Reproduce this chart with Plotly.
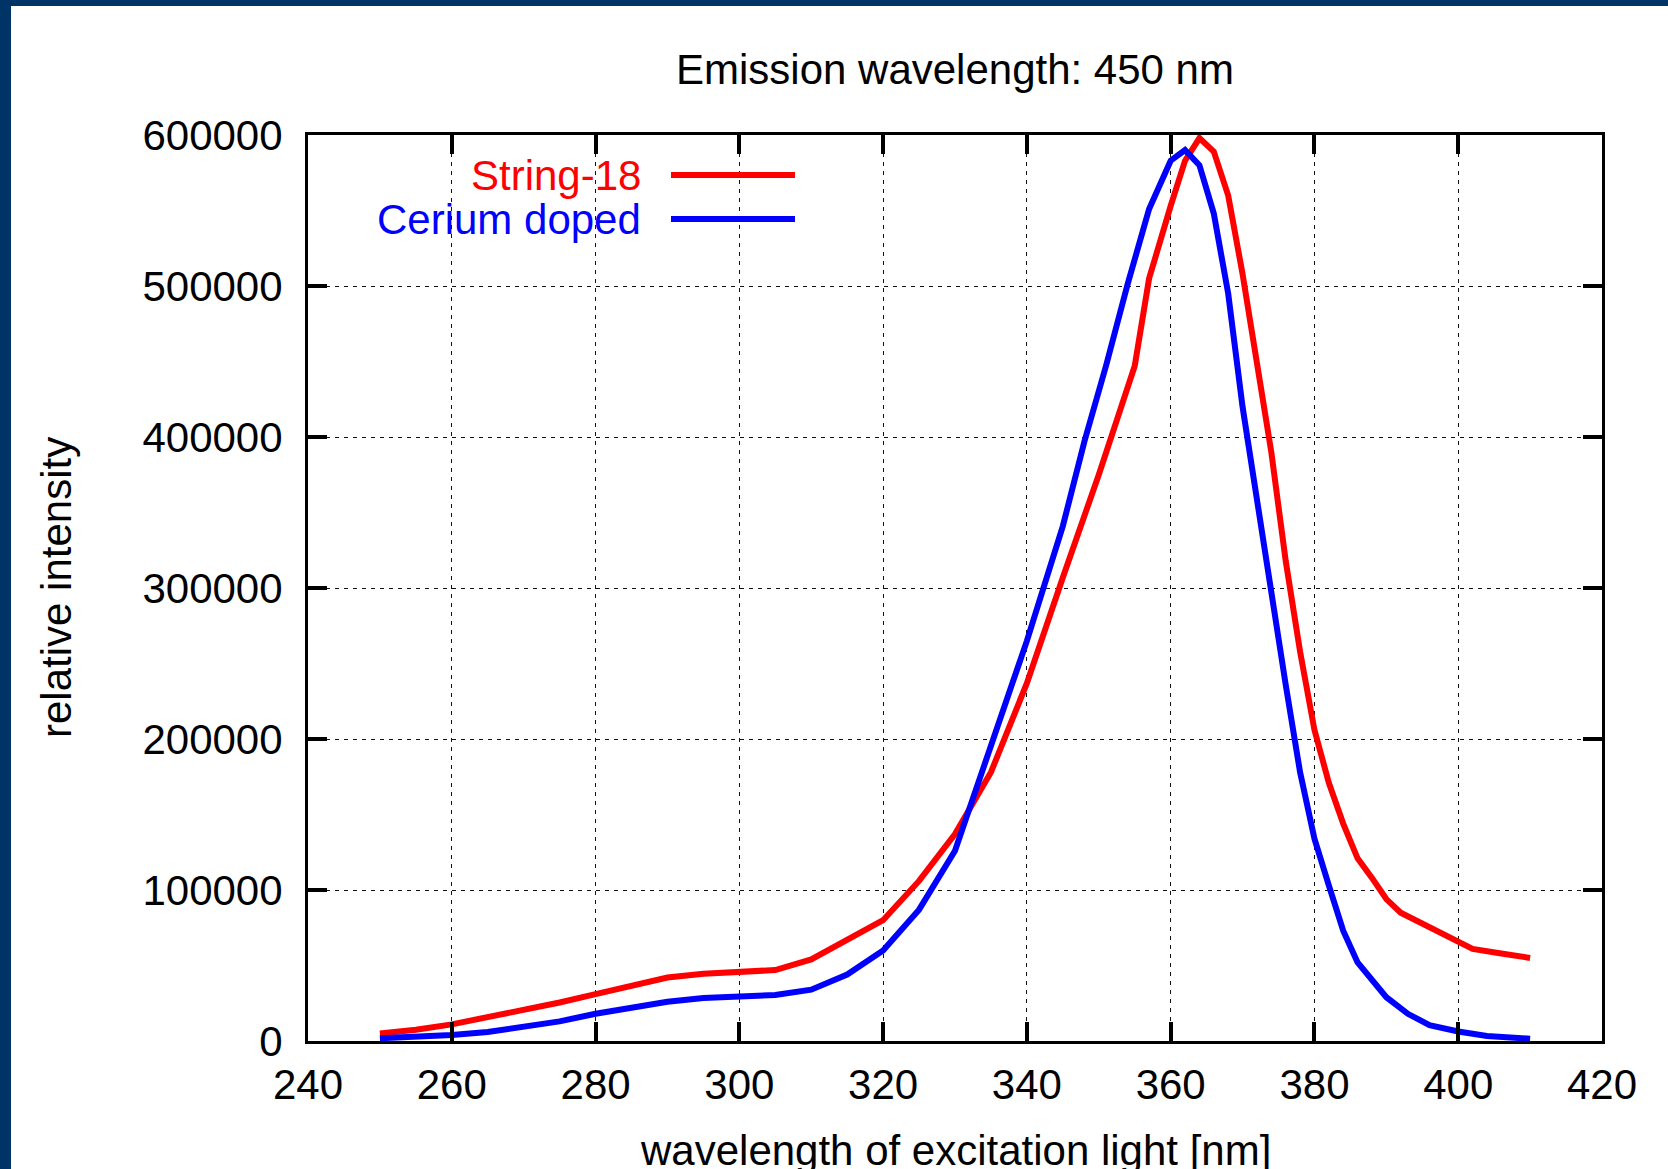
import plotly.graph_objects as go

# Excitation spectra (emission at 450 nm)
string18_wl = [250, 255, 260, 265, 270, 275, 280, 285, 290, 295, 300, 305, 310, 315,
               320, 325, 330, 335, 340, 345, 350, 355, 357, 360, 362, 364, 366, 368,
               370, 372, 374, 376, 378, 380, 382, 384, 386, 388, 390, 392, 396, 400,
               402, 406, 410]
string18_int = [5000, 7500, 11000, 15500, 20000, 25500, 31000, 36500, 42000, 44500,
                46000, 47000, 54000, 67000, 80000, 106000, 137000, 178000, 237000,
                307000, 375000, 447000, 505000, 553000, 583000, 598000, 589000, 560000,
                508000, 449000, 390000, 318000, 258000, 206000, 171000, 144000, 121000,
                108000, 94000, 85000, 75000, 66000, 61000, 58000, 55000]

cerium_wl = [250, 255, 260, 265, 270, 275, 280, 285, 290, 295, 300, 305, 310, 315,
             320, 325, 330, 335, 340, 345, 348, 351, 354, 357, 360, 362, 364, 366,
             368, 370, 372, 374, 376, 378, 380, 382, 384, 386, 388, 390, 393, 396,
             400, 404, 410]
cerium_int = [1800, 2700, 4000, 6000, 9000, 13000, 18000, 22000, 26000, 28500, 29300,
              30500, 34000, 44000, 60000, 87000, 126000, 194000, 265000, 341000,
              397000, 447000, 501000, 551000, 583000, 590000, 580000, 548000, 495000,
              420000, 358000, 292000, 236000, 178000, 134000, 103000, 73000, 52000,
              40000, 29000, 18000, 10500, 6300, 3300, 1500]

x_ticks = [240, 260, 280, 300, 320, 340, 360, 380, 400, 420]
y_ticks = [0, 100000, 200000, 300000, 400000, 500000, 600000]

series_names = ["String-18", "Cerium doped"]
series_colors = ["#ff0000", "#0000ff"]

W, H = 1668, 1169
PL, PR, PT, PB = 308, 1602, 135, 1041
FONT = "Liberation Sans, Arial, Helvetica, sans-serif"
FS = 42
LW = 6


def fx(px):
    return (px - PL) / (PR - PL)


def fy(py):
    return (PB - py) / (PB - PT)


fig = go.Figure()
for wl, val, name, col in [(string18_wl, string18_int, series_names[0], series_colors[0]),
                           (cerium_wl, cerium_int, series_names[1], series_colors[1])]:
    fig.add_trace(go.Scatter(x=wl, y=val, mode="lines", name=name,
                             line=dict(color=col, width=LW), showlegend=False))

axis_common = dict(
    showline=True, linecolor="black", linewidth=3, mirror="allticks",
    ticks="inside", ticklen=19, tickwidth=3.5, tickcolor="black",
    showgrid=True, gridcolor="#111111", gridwidth=1, griddash="4px,5px",
    zeroline=False, tickfont=dict(family=FONT, size=FS, color="black"),
)

fig.update_xaxes(range=[240, 420], tickvals=x_ticks, ticktext=[str(v) for v in x_ticks],
                 ticklabelstandoff=5, **axis_common)
fig.update_yaxes(range=[0, 600000], tickvals=y_ticks, ticktext=[str(v) for v in y_ticks],
                 ticklabelstandoff=14, **axis_common)

annotations = [
    dict(text="Emission wavelength: 450 nm", x=fx(955), y=fy(70)),
    dict(text="wavelength of excitation light [nm]", x=fx(955), y=fy(1150)),
    dict(text="relative intensity", x=fx(56), y=fy(588), textangle=-90),
]
anns = []
for a in annotations:
    a.update(xref="paper", yref="paper", showarrow=False, xanchor="center",
             yanchor="middle", font=dict(family=FONT, size=FS, color="black"))
    anns.append(a)

shapes = []
legend_rows = [175, 219]
for name, col, ry in zip(series_names, series_colors, legend_rows):
    anns.append(dict(text=name, x=fx(643), y=fy(ry), xref="paper", yref="paper",
                     showarrow=False, xanchor="right", yanchor="middle",
                     font=dict(family=FONT, size=FS, color=col)))
    shapes.append(dict(type="line", xref="paper", yref="paper",
                       x0=fx(671), x1=fx(795), y0=fy(ry), y1=fy(ry),
                       line=dict(color=col, width=LW)))

# navy frame along the top and left edges of the page
navy = "#003366"
shapes.append(dict(type="rect", xref="paper", yref="paper", layer="above",
                   x0=fx(0), x1=fx(11), y0=fy(H), y1=fy(0),
                   fillcolor=navy, line=dict(width=0)))
shapes.append(dict(type="rect", xref="paper", yref="paper", layer="above",
                   x0=fx(0), x1=fx(W), y0=fy(6), y1=fy(0),
                   fillcolor=navy, line=dict(width=0)))

fig.update_layout(
    width=W, height=H,
    margin=dict(l=PL, r=W - PR, t=PT, b=H - PB, pad=0),
    paper_bgcolor="white", plot_bgcolor="white",
    annotations=anns, shapes=shapes, showlegend=False,
    font=dict(family=FONT, size=FS, color="black"),
)

fig.write_html("out.html", config={"displayModeBar": False})
